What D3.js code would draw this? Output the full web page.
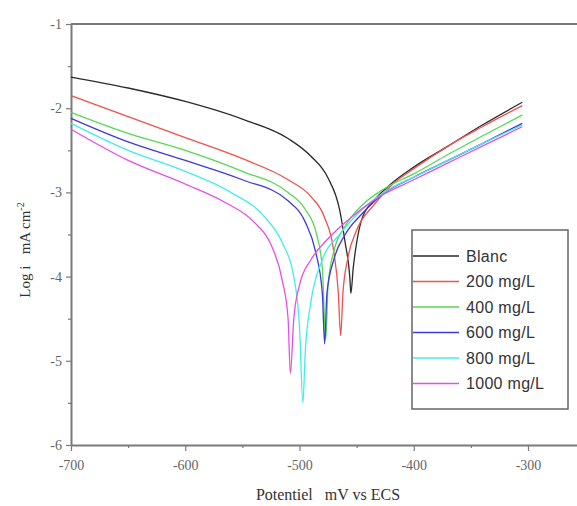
<!DOCTYPE html>
<html>
<head>
<meta charset="utf-8">
<script src="https://cdn.jsdelivr.net/npm/d3@7"></script>
<style>
  body { margin: 0; background: #fff; }
  svg { display: block; }
</style>
</head>
<body>
<div id="chart"></div>
<script>
// series: [potential mV, log i]
const blanc = [[-700,-1.63],[-650,-1.76],[-600,-1.92],[-550,-2.13],[-510,-2.36],[-490,-2.57],[-475,-2.83],[-465,-3.2],[-460,-3.6],[-456,-4.0],[-455,-4.2],
  [-453,-3.9],[-450,-3.6],[-445,-3.3],[-435,-3.1],[-420,-2.9],[-400,-2.7],[-370,-2.45],[-340,-2.2],[-305,-1.93]];
const c200 = [[-700,-1.85],[-650,-2.1],[-600,-2.35],[-550,-2.6],[-510,-2.85],[-490,-3.05],[-478,-3.3],[-470,-3.7],[-466,-4.2],[-464,-4.7],
  [-462,-4.2],[-458,-3.8],[-450,-3.45],[-435,-3.15],[-420,-2.92],[-400,-2.72],[-370,-2.45],[-340,-2.22],[-305,-1.97]];
const c400 = [[-700,-2.05],[-650,-2.3],[-600,-2.5],[-550,-2.75],[-510,-3.0],[-495,-3.2],[-485,-3.5],[-480,-3.9],[-477,-4.75],
  [-475,-4.1],[-470,-3.7],[-460,-3.4],[-445,-3.15],[-425,-2.95],[-400,-2.78],[-370,-2.55],[-340,-2.33],[-305,-2.08]];
const c600 = [[-700,-2.12],[-650,-2.4],[-600,-2.62],[-550,-2.85],[-510,-3.1],[-495,-3.35],[-486,-3.7],[-480,-4.2],[-478,-4.8],
  [-476,-4.2],[-470,-3.8],[-460,-3.5],[-445,-3.25],[-425,-3.0],[-400,-2.82],[-370,-2.62],[-340,-2.42],[-305,-2.18]];
const c800 = [[-700,-2.18],[-650,-2.5],[-600,-2.75],[-560,-3.0],[-530,-3.3],[-515,-3.6],[-505,-4.0],[-500,-4.6],[-497,-5.5],
  [-495,-4.9],[-490,-4.3],[-480,-3.8],[-465,-3.5],[-445,-3.2],[-420,-2.95],[-400,-2.82],[-370,-2.62],[-340,-2.42],[-305,-2.2]];
const c1000 = [[-700,-2.25],[-650,-2.62],[-600,-2.9],[-565,-3.12],[-540,-3.35],[-525,-3.62],[-515,-4.05],[-510,-4.5],[-508,-5.15],
  [-505,-4.5],[-500,-4.1],[-490,-3.8],[-475,-3.55],[-455,-3.3],[-430,-3.05],[-400,-2.85],[-370,-2.65],[-340,-2.45],[-305,-2.22]];

const seriesNames = ["Blanc", "200 mg/L", "400 mg/L", "600 mg/L", "800 mg/L", "1000 mg/L"];
const seriesData = [blanc, c200, c400, c600, c800, c1000];
const seriesColors = ["#2b2b2b", "#f24f4f", "#55d955", "#3b3bd6", "#45ecec", "#e64fe6"];

const xTicks = [-700, -600, -500, -400, -300];
const yTicks = [-6, -5, -4, -3, -2, -1];

const W = 577, H = 506;
const svg = d3.select("#chart").append("svg")
    .attr("width", W)
    .attr("height", H);

// x goes past the right edge, the frame is cut there
let x = d3.scaleLinear().domain([-700, -250]).range([71, 71 + 450 * 1.1425]);
let y = d3.scaleLinear().domain([-6, -1]).range([445, 24]);

const axisColor = "#7a7a7a";
const plainNum = d => String(d);   // hyphen instead of unicode minus

// minor ticks
svg.append("g")
    .attr("transform", "translate(0,445)")
    .call(d3.axisBottom(x).tickValues([-650, -550, -450, -350, -250]).tickSize(3).tickFormat(""))
    .call(g => g.select(".domain").remove())
    .selectAll("line").attr("stroke", axisColor).attr("stroke-width", 1.2);
svg.append("g")
    .attr("transform", "translate(71,0)")
    .call(d3.axisLeft(y).tickValues([-5.5, -4.5, -3.5, -2.5, -1.5]).tickSize(3).tickFormat(""))
    .call(g => g.select(".domain").remove())
    .selectAll("line").attr("stroke", axisColor).attr("stroke-width", 1.2);

// major axes
let xAxis = svg.append("g")
    .attr("transform", "translate(0,445)")
    .call(d3.axisBottom(x).tickValues(xTicks).tickSize(6).tickSizeOuter(0).tickPadding(6).tickFormat(plainNum));
let yAxis = svg.append("g")
    .attr("transform", "translate(71,0)")
    .call(d3.axisLeft(y).tickValues(yTicks).tickSize(5).tickSizeOuter(0).tickPadding(4).tickFormat(plainNum));

[xAxis, yAxis].forEach(a => {
    a.select(".domain").attr("stroke", axisColor).attr("stroke-width", 2);
    a.selectAll(".tick line").attr("stroke", axisColor).attr("stroke-width", 1.2);
    a.selectAll(".tick text")
        .attr("fill", "#666")
        .style("font-family", "'Liberation Serif', serif")
        .style("font-size", "14px");
});
xAxis.selectAll(".tick text").attr("dy", "0.9em");

// top frame line
svg.append("line")
    .attr("x1", x(-700)).attr("x2", W)
    .attr("y1", y(-1)).attr("y2", y(-1))
    .attr("stroke", axisColor)
    .attr("stroke-width", 2);

// curves
let line = d3.line()
    .x(d => x(d[0]))
    .y(d => y(d[1]))
    .curve(d3.curveMonotoneX);

svg.selectAll(".curve")
    .data(seriesData)
    .enter().append("path")
    .attr("class", "curve")
    .attr("d", d => line(d))
    .attr("fill", "none")
    .attr("stroke", (d, i) => seriesColors[i])
    .attr("stroke-width", 1.3);

// legend
let legend = svg.append("g");
legend.append("rect")
    .attr("x", 412).attr("y", 230)
    .attr("width", 156).attr("height", 179)
    .attr("fill", "#fff")
    .attr("stroke", "#666")
    .attr("stroke-width", 1.5);

let items = legend.selectAll(".legend")
    .data(seriesNames)
    .enter().append("g")
    .attr("class", "legend")
    .attr("transform", (d, i) => "translate(0," + (256 + i * 25.5) + ")");

items.append("line")
    .attr("x1", 413).attr("x2", 459)
    .attr("y1", 0).attr("y2", 0)
    .attr("stroke", (d, i) => seriesColors[i])
    .attr("stroke-width", 1.3);

items.append("text")
    .attr("x", 466)
    .attr("dy", "0.36em")
    .attr("fill", "#333")
    .style("font-family", "'Liberation Sans', Arial, sans-serif")
    .style("font-size", "16px")
    .style("letter-spacing", "0.3px")
    .text(d => d);

// axis titles
svg.append("text")
    .attr("x", 328).attr("y", 500)
    .attr("text-anchor", "middle")
    .attr("fill", "#333")
    .style("font-family", "'Liberation Serif', serif")
    .style("font-size", "16px")
    .style("white-space", "pre")
    .text("Potentiel   mV vs ECS");

svg.append("text")
    .attr("transform", "translate(30,250) rotate(-90)")
    .attr("text-anchor", "middle")
    .attr("fill", "#333")
    .style("font-family", "'Liberation Serif', serif")
    .style("font-size", "15px")
    .style("white-space", "pre")
    .html("Log i   mA cm<tspan dy='-6' font-size='10'>-2</tspan>");
</script>
</body>
</html>
